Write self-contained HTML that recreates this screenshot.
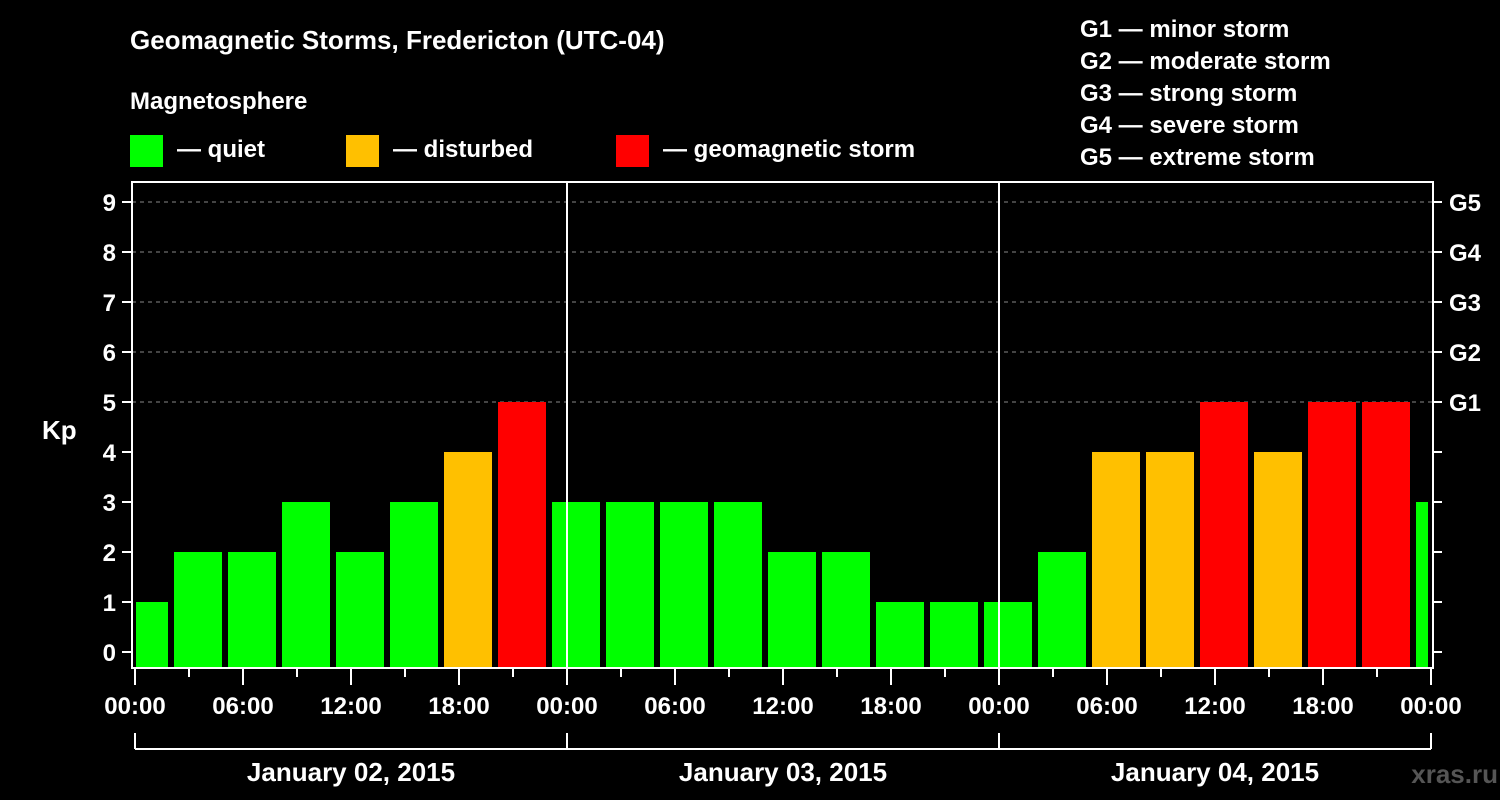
<!DOCTYPE html>
<html><head><meta charset="utf-8">
<style>
html,body{margin:0;padding:0;background:#000;}
svg{display:block;font-family:"Liberation Sans",sans-serif;font-weight:bold;}
</style></head><body>
<svg id="chart" width="1500" height="800" viewBox="0 0 1500 800">
<rect width="1500" height="800" fill="#000"/>
<text x="130" y="49" fill="#fff" font-size="26">Geomagnetic Storms, Fredericton (UTC-04)</text>
<text x="130" y="109" fill="#fff" font-size="24">Magnetosphere</text>
<g><rect x="130" y="135" width="33" height="32" fill="#00ff00"/><text x="177" y="157" fill="#fff" font-size="24">— quiet</text></g>
<g><rect x="346" y="135" width="33" height="32" fill="#ffc000"/><text x="393" y="157" fill="#fff" font-size="24">— disturbed</text></g>
<g><rect x="616" y="135" width="33" height="32" fill="#ff0000"/><text x="663" y="157" fill="#fff" font-size="24">— geomagnetic storm</text></g>
<g fill="#fff" font-size="24">
<text x="1080" y="37">G1 — minor storm</text>
<text x="1080" y="69">G2 — moderate storm</text>
<text x="1080" y="101">G3 — strong storm</text>
<text x="1080" y="133">G4 — severe storm</text>
<text x="1080" y="165">G5 — extreme storm</text>
</g>
<text x="42" y="439" fill="#fff" font-size="26">Kp</text>
<text x="1498" y="783" fill="#555" font-size="26" text-anchor="end">xras.ru</text>
<g id="grid"></g><g id="bars"></g><g id="axes"></g>
</svg>
<script>
const kpValues=[1,2,2,3,2,3,4,5,3,3,3,3,2,2,1,1,1,2,4,4,5,4,5,5,3];
const hourTicks=["00:00","06:00","12:00","18:00","00:00","06:00","12:00","18:00","00:00","06:00","12:00","18:00","00:00"];
const dayLabels=["January 02, 2015","January 03, 2015","January 04, 2015"];
const yTicks=[0,1,2,3,4,5,6,7,8,9];
const gLabels=["G1","G2","G3","G4","G5"];
const NS="http://www.w3.org/2000/svg";
const X0=135,X1=1431,L=132,R=1433,T=182,B=668;
const x=h=>X0+(X1-X0)*h/72;
const y=v=>652-50*v;
function mk(tag,attrs,parent){const e=document.createElementNS(NS,tag);for(const k in attrs)e.setAttribute(k,attrs[k]);parent.appendChild(e);return e;}
const grid=document.getElementById('grid'),bars=document.getElementById('bars'),axes=document.getElementById('axes');
yTicks.forEach(v=>{
  if(v>=5){const gl=mk('line',{x1:L,x2:R,y1:y(v),y2:y(v),stroke:'#888','stroke-dasharray':'4,4','stroke-width':1},grid);
  
  }
  const t=mk('text',{x:116,y:y(v)+9,fill:'#fff','font-size':24,'text-anchor':'end'},axes);t.textContent=v;
  
  
  mk('line',{x1:122,x2:L,y1:y(v),y2:y(v),stroke:'#fff','stroke-width':2},axes);
  mk('line',{x1:R,x2:1442,y1:y(v),y2:y(v),stroke:'#fff','stroke-width':2},axes);
});
gLabels.forEach((g,i)=>{const t=mk('text',{x:1449,y:y(5+i)+9,fill:'#fff','font-size':24},axes);t.textContent=g;
  
  });
kpValues.forEach((v,i)=>{
  const c=0.5+3*i;
  let a=Math.max(x(c-1.5)+3,X0+1),b=Math.min(x(c+1.5)-3,X1-3);
  const col=v>=5?'#ff0000':(v>=4?'#ffc000':'#00ff00');
  const r=mk('rect',{x:a,y:y(v),width:b-a,height:B-y(v),fill:col},bars);
  
  
});
mk('rect',{x:L,y:T,width:R-L,height:B-T,fill:'none',stroke:'#fff','stroke-width':2},axes);
[24,48].forEach(h=>mk('line',{x1:x(h),x2:x(h),y1:T,y2:B,stroke:'#fff','stroke-width':2},axes));
for(let h=0;h<=72;h+=3){mk('line',{x1:x(h),x2:x(h),y1:B,y2:h%6==0?685:677,stroke:'#fff','stroke-width':2},axes);}
hourTicks.forEach((s,i)=>{const t=mk('text',{x:x(i*6),y:714,fill:'#fff','font-size':24,'text-anchor':'middle'},axes);t.textContent=s;
  
  });
mk('line',{x1:x(0),x2:x(72),y1:749,y2:749,stroke:'#fff','stroke-width':2},axes);
[0,24,48,72].forEach(h=>mk('line',{x1:x(h),x2:x(h),y1:733,y2:749,stroke:'#fff','stroke-width':2},axes));
dayLabels.forEach((s,i)=>{const t=mk('text',{x:x(i*24+12),y:781,fill:'#fff','font-size':26,'text-anchor':'middle'},axes);t.textContent=s;
  
  });
</script>
</body></html>
